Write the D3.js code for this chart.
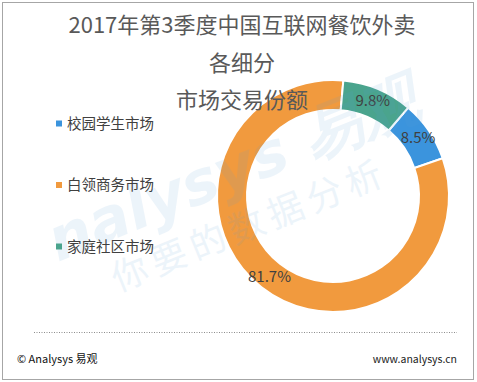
<!DOCTYPE html>
<html><head><meta charset="utf-8">
<script src="https://cdn.jsdelivr.net/npm/d3@7"></script>
<style>html,body{margin:0;padding:0;background:#fff;}svg{display:block;}</style>
</head><body>
<script>
const categories = ["校园学生市场", "白领商务市场", "家庭社区市场"];
const values = [8.5, 81.7, 9.8];
const labels = ["8.5%", "81.7%", "9.8%"];
const colors = ["#3b94dd", "#f19a3e", "#4aa48d"];
const titleLines = ["2017年第3季度中国互联网餐饮外卖", "各细分", "市场交易份额"];

const W = 477, H = 382;
const font = "'Noto Sans CJK SC','Noto Sans',sans-serif";
const svg = d3.select("body").append("svg").attr("width", W).attr("height", H);

svg.append("rect").attr("x", 2.5).attr("y", 2.5).attr("width", 471).attr("height", 377)
  .attr("fill", "#fff").attr("stroke", "#a6a6a6").attr("stroke-width", 1);

// donut
const cx = 333, cy = 196, rO = 116, rI = 86;
const start = 40.4 * Math.PI / 180;
const pie = d3.pie().sort(null).value(d => d).startAngle(start).endAngle(start + 2 * Math.PI);
const arc = d3.arc().innerRadius(rI).outerRadius(rO);
const arcs = pie(values);
const g = svg.append("g").attr("transform", `translate(${cx},${cy})`);
g.selectAll("path").data(arcs).join("path")
  .attr("d", arc).attr("fill", (d, i) => colors[i])
  .attr("stroke", "#fff").attr("stroke-width", 2);

// watermark (faint, over everything)
const wm = svg.append("g").attr("fill", "#5a9fd8").attr("opacity", 0.11);
wm.append("text").attr("transform", "translate(58,262) rotate(-22)")
  .attr("font-family", "'DejaVu Sans',sans-serif").attr("font-weight", "bold").attr("font-style", "italic")
  .attr("font-size", 60).text("nalysys 易观");
wm.append("text").attr("transform", "translate(118,292) rotate(-22)")
  .attr("font-family", font).attr("font-size", 36).attr("letter-spacing", 6)
  .text("你要的数据分析");

const labelArc = d3.arc().innerRadius(rI + 2).outerRadius(rO + 2);
g.selectAll("text").data(arcs).join("text")
  .attr("transform", d => `translate(${labelArc.centroid(d)})`)
  .attr("text-anchor", "middle").attr("dy", "0.35em")
  .attr("font-family", font).attr("font-size", 15).attr("fill", "#404040")
  .text((d, i) => labels[i]);

// title
svg.append("g").selectAll("text").data(titleLines).join("text")
  .attr("x", 242).attr("y", (d, i) => 33 + i * 37.5)
  .attr("text-anchor", "middle").attr("font-family", font).attr("font-size", 22)
  .attr("fill", "#595959").text(d => d);

// legend
const leg = svg.append("g");
const legY = d3.scalePoint().domain(categories).range([123.5, 246.5]);
leg.selectAll("rect").data(categories).join("rect")
  .attr("x", 56).attr("y", d => legY(d) - 3).attr("width", 6).attr("height", 6)
  .attr("fill", (d, i) => colors[i]);
leg.selectAll("text").data(categories).join("text")
  .attr("x", 67).attr("y", d => legY(d)).attr("dy", "0.36em")
  .attr("font-family", font).attr("font-size", 14.5).attr("fill", "#404040")
  .text(d => d);

// footer
svg.append("line").attr("x1", 34).attr("x2", 457).attr("y1", 332.5).attr("y2", 332.5)
  .attr("stroke", "#8c8c8c").attr("stroke-width", 1).attr("stroke-dasharray", "1,1.5");
svg.append("text").attr("x", 17).attr("y", 363)
  .attr("font-family", font).attr("font-size", 11).attr("fill", "#111")
  .text("© Analysys 易观");
svg.append("text").attr("x", 457).attr("y", 363).attr("text-anchor", "end")
  .attr("font-family", font).attr("font-size", 10.5).attr("fill", "#222")
  .text("www.analysys.cn");
</script>
</body></html>
